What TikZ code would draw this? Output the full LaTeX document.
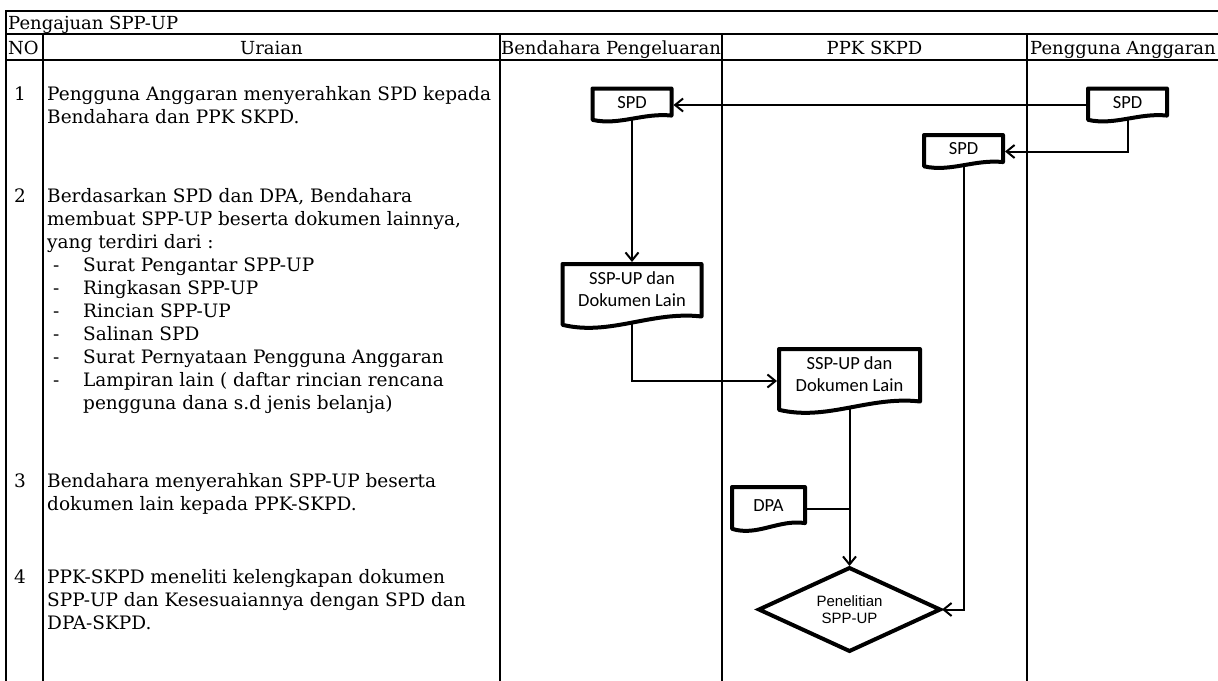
\documentclass[tikz,border=0pt]{standalone}
\usepackage{fontspec}
\setmainfont{DejaVu Serif}
\newfontfamily\docfam{Carlito}
\newfontfamily\decfam{Liberation Sans}
\usetikzlibrary{arrows.meta,positioning,shapes.geometric,calc}
\tikzset{
  tbl/.style={line width=2.2pt, line cap=rect},
  hdr/.style={font=\fontsize{18}{21}\selectfont, inner sep=0pt},
  uraian/.style={font=\fontsize{18.5}{23}\selectfont, align=left, inner sep=0pt, anchor=base west},
  nomor/.style={font=\fontsize{18.5}{23}\selectfont, inner sep=0pt, anchor=base},
  doc/.style={rectangle, align=center, inner sep=0pt, outer sep=0pt,
              font=\docfam\fontsize{18.5}{22}\selectfont},
  docline/.style={line width=4pt, line join=round},
  dec/.style={diamond, draw, line width=4pt, outer sep=0pt, inner sep=0pt,
              shape aspect=2, align=center, font=\decfam\fontsize{15}{17}\selectfont,
              minimum width=181pt, minimum height=83pt},
  arrow/.style={-{Straight Barb[length=8pt,width=13pt]}, line width=2pt, shorten >=2pt},
  link/.style={line width=2pt}
}
\newcommand{\lift}[2]{\raisebox{0pt}[\height][\dimexpr\depth+#1\relax]{#2}}
\newcommand{\itm}[1]{\makebox[36pt][l]{\hspace*{6pt}-}#1}
\newcommand{\docshape}[1]{%
  \path ($(#1.south west)!0.64!(#1.south east)$) coordinate (#1-s1)
        ($(#1.north west)!0.64!(#1.north east)$) coordinate (#1-n1)
        ($(#1.south west)!0.34!(#1.south east)$) coordinate (#1-s2)
        ($(#1.north west)!0.34!(#1.north east)$) coordinate (#1-n2);
  \draw[docline] ($(#1.south west)!0.05!(#1.north west)$) -- (#1.north west)
    -- (#1.north east) -- ($(#1.south east)!0.18!(#1.north east)$)
    .. controls ($(#1-s1)!0.27!(#1-n1)$) and ($(#1-s2)!-0.13!(#1-n2)$)
    .. ($(#1.south west)!0.05!(#1.north west)$) -- cycle;}
\begin{document}
\begin{tikzpicture}[x=1pt, y=-1pt]
  \useasboundingbox[fill=white] (0,0) rectangle (1218,680);

  \node[hdr, anchor=base west] (judul) at (8,29) {Pengajuan SPP-UP};
  \node[hdr, anchor=base west] (hNo) at (8,54) {NO};
  \node[hdr, anchor=base] (hUraian) at (271.5,54) {Uraian};
  \begin{scope}
    \clip (500,34) rectangle (722,60);
    \node[hdr, anchor=base] (hBendahara) at (611,54) {Bendahara Pengeluaran};
  \end{scope}
  \node[hdr, anchor=base] (hPpk) at (874.5,54) {PPK SKPD};
  \node[hdr, anchor=base west] (hPengguna) at (1030,54) {Pengguna Anggaran};

  \draw[tbl] (6,11) -- (1218,11);
  \draw[tbl] (6,34) -- (1218,34);
  \draw[tbl] (6,60) -- (1218,60);
  \draw[tbl] (6,11) -- (6,680);
  \foreach \x in {43,500,722,1027} \draw[tbl] (\x,34) -- (\x,680);

  % base of a text block = baseline of its last line
  \node[nomor] (n1) at (20,100) {1};
  \node[uraian] (u1) at (47,123) {Pengguna Anggaran menyerahkan SPD kepada\\Bendahara dan PPK SKPD.};
  \node[nomor] (n2) at (20,202) {2};
  \node[uraian] (u2) at (47,409) {Berdasarkan SPD dan DPA, Bendahara\\
    membuat SPP-UP beserta dokumen lainnya,\\yang terdiri dari :\\
    \itm{Surat Pengantar SPP-UP}\\\itm{Ringkasan SPP-UP}\\\itm{Rincian SPP-UP}\\
    \itm{Salinan SPD}\\\itm{Surat Pernyataan Pengguna Anggaran}\\
    \itm{Lampiran lain ( daftar rincian rencana}\\\hspace*{36pt}pengguna dana s.d jenis belanja)};
  \node[nomor] (n3) at (20,487) {3};
  \node[uraian] (u3) at (47,510) {Bendahara menyerahkan SPP-UP beserta\\dokumen lain kepada PPK-SKPD.};
  \node[nomor] (n4) at (20,583) {4};
  \node[uraian] (u4) at (47,629) {PPK-SKPD meneliti kelengkapan dokumen\\SPP-UP dan Kesesuaiannya dengan SPD dan\\DPA-SKPD.};

  \node[doc, minimum width=79pt, minimum height=33pt] (spdB) at (632,105) {\lift{5pt}{SPD}};
  \node[doc, minimum width=79pt, minimum height=33pt] (spdPA) at (1127.5,105) {\lift{5pt}{SPD}};
  \node[doc, minimum width=79pt, minimum height=33pt] (spdP) at (963.5,151.5) {\lift{5pt}{SPD}};
  \node[doc, minimum width=139pt, minimum height=64pt] (ssp1) at (632,296)
    {\lift{10pt}{\begin{tabular}{@{}c@{}}SSP-UP dan\\Dokumen Lain\end{tabular}}};
  \node[doc, minimum width=141pt, minimum height=64pt] (ssp2) at (849.5,381)
    {\lift{10pt}{\begin{tabular}{@{}c@{}}SSP-UP dan\\Dokumen Lain\end{tabular}}};
  \node[doc, minimum width=73pt, minimum height=44pt] (dpa) at (768.5,509) {\lift{6pt}{DPA}};
  \node[dec] (teliti) at (849.5,609.5) {Penelitian\\SPP-UP};
  \foreach \d in {spdB,spdPA,spdP,ssp1,ssp2,dpa} \docshape{\d};

  \draw[arrow] (spdPA.west) -- (spdB.east);
  \draw[arrow, shorten <=-3pt] (spdPA.south) |- (spdP.east);
  \draw[arrow, shorten <=-3pt] (spdB.south) -- (ssp1.north);
  \draw[arrow, shorten <=-5pt] (ssp1.south) |- (ssp2.west);
  \draw[arrow, shorten <=-5pt] (ssp2.south) -- (teliti.north);
  \draw[link] (dpa.east) -- (dpa.east -| ssp2.south);
  \draw[arrow, shorten <=-3pt] (spdP.south) |- (teliti.east);
\end{tikzpicture}
\end{document}
